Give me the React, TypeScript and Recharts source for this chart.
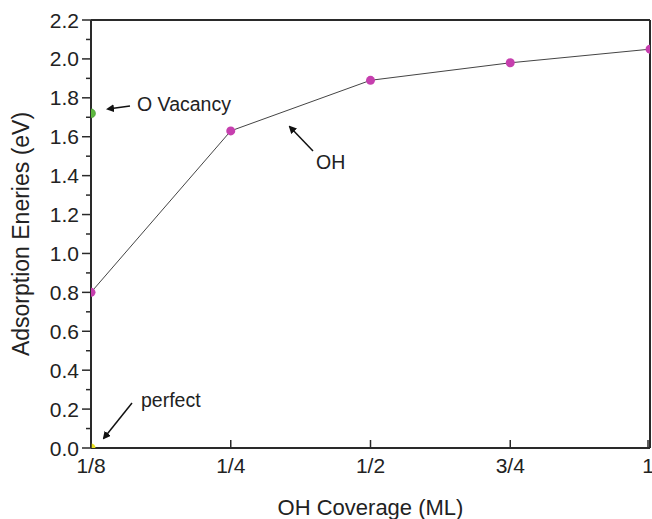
import React from 'react';
import { ComposedChart, Line, Scatter, XAxis, YAxis, ReferenceLine } from 'recharts';

// coverage categories, evenly spaced on the x axis
const coverageLabels = ['1/8', '1/4', '1/2', '3/4', '1'];
const ohEnergies = [0.8, 1.63, 1.89, 1.98, 2.05];
const vacancyEnergy = [1.72];
const perfectEnergy = [0.0];
const yTicks = Array.from({ length: 23 }, (_, i) => Math.round(i * 10) / 100);

const ohData = ohEnergies.map((y, i) => ({ x: i, y }));
const vacancyData = vacancyEnergy.map(y => ({ x: 0, y }));
const perfectData = perfectEnergy.map(y => ({ x: 0, y }));

const AXIS = '#2a2a2a';
const FONT = 'Arial, "Liberation Sans", sans-serif';

const YTick = (props: any) => {
  const { x, y, payload } = props;
  const v = payload.value as number;
  const major = Math.round(v * 10) % 2 === 0;
  const axisX = x + 11;
  return (
    <g>
      <line x1={axisX - (major ? 9 : 5)} x2={axisX} y1={y} y2={y} stroke={AXIS} strokeWidth={1.5} />
      {major && (
        <text x={x - 1} y={y} dy="0.36em" textAnchor="end" fontSize={21} fill="#222" fontFamily={FONT}>
          {v.toFixed(1)}
        </text>
      )}
    </g>
  );
};

const XTick = (props: any) => {
  const { x, y, payload } = props;
  const axisY = y - 10;
  return (
    <g>
      <line x1={x} x2={x} y1={axisY} y2={axisY - 8} stroke={AXIS} strokeWidth={1.5} />
      <text x={x} y={y} dy="0.71em" textAnchor="middle" fontSize={21} fill="#222" fontFamily={FONT}>
        {coverageLabels[payload.value]}
      </text>
    </g>
  );
};

const Arrow = ({ x1, y1, x2, y2 }: { x1: number; y1: number; x2: number; y2: number }) => (
  <line x1={x1} y1={y1} x2={x2} y2={y2} stroke="#111" strokeWidth={1.5} markerEnd="url(#arrowhead)" />
);

export default function App() {
  return (
    <div style={{ position: 'absolute', left: 0, top: 0, width: 652, height: 519, background: '#fff' }}>
      <ComposedChart width={652} height={519} margin={{ top: 20, right: 2, bottom: 0, left: 0 }}>
        <XAxis
          type="number"
          dataKey="x"
          domain={[0, 4]}
          ticks={[0, 1, 2, 3, 4]}
          allowDataOverflow
          height={71}
          tickSize={8}
          tickLine={false}
          tick={<XTick />}
          axisLine={{ stroke: AXIS, strokeWidth: 2 }}
          label={{ value: 'OH Coverage (ML)', position: 'insideBottom', offset: 4, fontSize: 22, fill: '#222', fontFamily: FONT }}
        />
        <YAxis
          type="number"
          domain={[0, 2.2]}
          ticks={yTicks}
          interval={0}
          allowDataOverflow
          width={91}
          tickSize={9}
          tickLine={false}
          tick={<YTick />}
          axisLine={{ stroke: AXIS, strokeWidth: 2 }}
          label={{ value: 'Adsorption Eneries (eV)', angle: -90, position: 'insideLeft', offset: 21, fontSize: 23, fill: '#222', fontFamily: FONT, style: { textAnchor: 'middle' } }}
        />
        <ReferenceLine y={2.2} stroke={AXIS} strokeWidth={2} />
        <ReferenceLine x={4} stroke={AXIS} strokeWidth={2} />
        <Line
          data={ohData}
          dataKey="y"
          type="linear"
          stroke="#444"
          strokeWidth={1}
          dot={{ r: 4.5, fill: '#c63fae', stroke: '#c63fae', strokeWidth: 0 }}
          isAnimationActive={false}
        />
        <Scatter data={vacancyData} dataKey="y" fill="#5cb83e" stroke="#3c8a28" strokeWidth={0.5} shape="circle" isAnimationActive={false} />
        <Scatter data={perfectData} dataKey="y" fill="#e8e020" shape="circle" isAnimationActive={false} />
      </ComposedChart>
      <svg width={652} height={519} style={{ position: 'absolute', left: 0, top: 0, pointerEvents: 'none' }}>
        <defs>
          <marker id="arrowhead" markerWidth="8" markerHeight="8" refX="6" refY="4" orient="auto" markerUnits="userSpaceOnUse">
            <path d="M0,0 L8,4 L0,8 z" fill="#111" />
          </marker>
        </defs>
        <Arrow x1={130} y1={106} x2={108} y2={109} />
        <text x={137} y={111} fontSize={19.5} fill="#222" fontFamily={FONT}>O Vacancy</text>
        <Arrow x1={313} y1={151} x2={290} y2={127} />
        <text x={316} y={169} fontSize={19.5} fill="#222" fontFamily={FONT}>OH</text>
        <Arrow x1={132} y1={403} x2={104} y2={438} />
        <text x={141} y={407} fontSize={19.5} fill="#222" fontFamily={FONT}>perfect</text>
      </svg>
    </div>
  );
}
